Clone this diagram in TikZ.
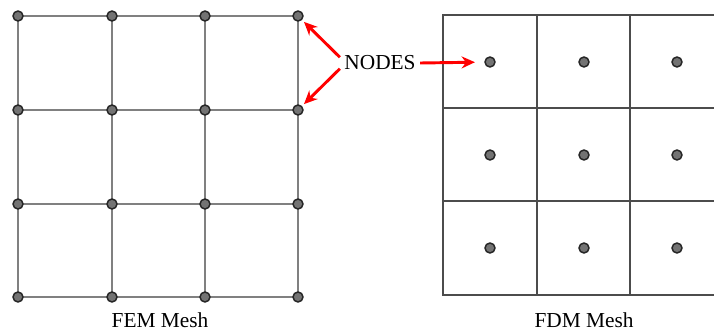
\documentclass[tikz,border=0pt]{standalone}
\usepackage{fontspec}
\setmainfont{Liberation Serif}
\usetikzlibrary{arrows.meta}
\begin{document}
\begin{tikzpicture}[x=0.75pt,y=-0.75pt,
  femline/.style={draw=black!50,line width=1.7pt},
  fdmline/.style={draw=black!70,line width=1.1pt},
  dot/.style={circle,fill=black!55,draw=black!85,line width=1.1pt,inner sep=0pt,minimum size=7.5pt},
  redarrow/.style={draw=red,line width=2.2pt,-{Stealth[length=10pt,width=9pt]}},
  lbl/.style={font=\fontsize{16pt}{19pt}\selectfont,inner sep=1pt}]
\useasboundingbox (0,0) rectangle (714,332);
% FEM mesh
\foreach \i/\x in {0/18,1/112,2/205,3/298}{
  \draw[femline] (\x,16) -- (\x,297);
}
\foreach \j/\y in {0/16,1/110,2/204,3/297}{
  \draw[femline] (18,\y) -- (298,\y);
}
\foreach \i/\x in {0/18,1/112,2/205,3/298}{
  \foreach \j/\y in {0/16,1/110,2/204,3/297}{
    \node[dot] (f\i\j) at (\x,\y) {};
  }
}
% FDM mesh
\draw[fdmline] (714,15) -- (443,15) -- (443,295) -- (714,295);
\draw[fdmline] (443,108) -- (714,108);
\draw[fdmline] (443,201) -- (714,201);
\draw[fdmline] (537,15) -- (537,295);
\draw[fdmline] (630,15) -- (630,295);
\foreach \i/\x in {0/490,1/584,2/677}{
  \foreach \j/\y in {0/62,1/155,2/248}{
    \node[dot] (d\i\j) at (\x,\y) {};
  }
}
% labels
\node[lbl] (nodes) at (380,63) {NODES};
\node[lbl] (fem) at (160,320) {FEM Mesh};
\node[lbl] (fdm) at (584,320) {FDM Mesh};
\draw[redarrow,shorten >=2pt] (nodes.north west) ++(-3,3) coordinate (a1) (a1) -- (f30);
\draw[redarrow,shorten >=2pt] (nodes.south west) ++(-3,-3) coordinate (a2) (a2) -- (f31);
\draw[redarrow,shorten >=7pt] (nodes.east) ++(3,0) coordinate (a3) (a3) -- (d00);
\end{tikzpicture}
\end{document}
